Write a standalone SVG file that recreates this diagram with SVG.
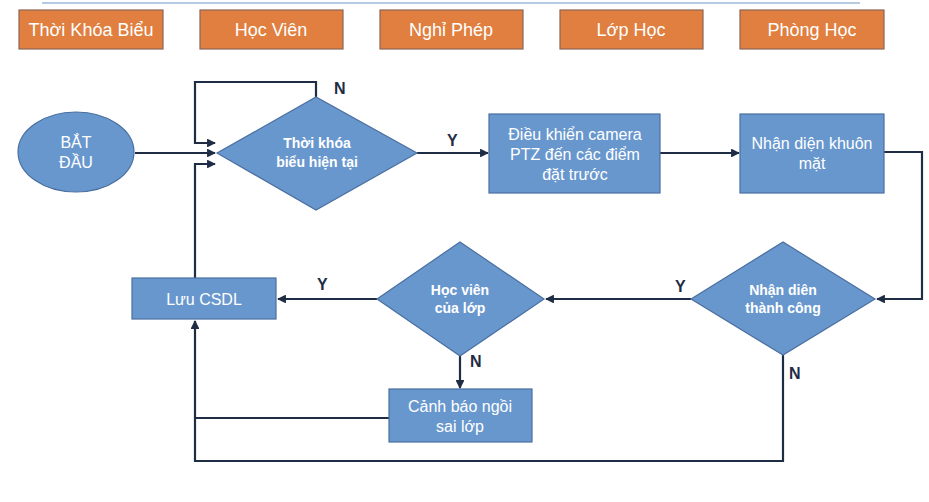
<svg xmlns="http://www.w3.org/2000/svg" width="929" height="502" viewBox="0 0 929 502">
<defs>
<marker id="ah" viewBox="0 0 10 10" refX="9" refY="5" markerWidth="4" markerHeight="4" orient="auto" markerUnits="strokeWidth">
<path d="M0,0 L10,5 L0,10 z" fill="#1F2D44"/>
</marker>
</defs>
<style>
.tab{fill:#E07F3F;stroke:#8A6455;stroke-width:1.2}
.tabt{font-family:"Liberation Sans",Arial,sans-serif;font-size:18px;fill:#fff;text-anchor:middle}
.node{fill:#6897CE;stroke:#4A6FA0;stroke-width:1.2}
.t{font-family:"Liberation Sans",Arial,sans-serif;font-size:16px;fill:#fff;text-anchor:middle}
.tb{font-family:"Liberation Sans",Arial,sans-serif;font-size:14px;font-weight:bold;fill:#fff;text-anchor:middle}
.lbl{font-family:"Liberation Sans",Arial,sans-serif;font-size:16px;font-weight:bold;fill:#1F2D44}
.c{fill:none;stroke:#1F2D44;stroke-width:2.2}
.ca{fill:none;stroke:#1F2D44;stroke-width:2.2;marker-end:url(#ah)}
</style>
<rect width="929" height="502" fill="#fff"/>
<line x1="42" y1="3" x2="860" y2="3" stroke="#9DB8DA" stroke-width="1.5"/>

<g id="tab1"><rect class="tab" x="19" y="10" width="144" height="39"/><text class="tabt" x="91" y="36">Thời Khóa Biểu</text></g>
<g id="tab2"><rect class="tab" x="200" y="10" width="143" height="39"/><text class="tabt" x="271" y="36">Học Viên</text></g>
<g id="tab3"><rect class="tab" x="380" y="10" width="143" height="39"/><text class="tabt" x="451" y="36">Nghỉ Phép</text></g>
<g id="tab4"><rect class="tab" x="560" y="10" width="143" height="39"/><text class="tabt" x="631" y="36">Lớp Học</text></g>
<g id="tab5"><rect class="tab" x="740" y="10" width="144" height="39"/><text class="tabt" x="812" y="36">Phòng Học</text></g>

<g id="connectors">
<path class="ca" d="M135,153 H215"/>
<path class="ca" d="M316,97 V82 H195 V143 H215"/>
<path class="ca" d="M195,278 V164 H215"/>
<path class="ca" d="M417,153 H488"/>
<path class="ca" d="M660,153 H739"/>
<path class="ca" d="M884,152 H922 V299 H877"/>
<path class="ca" d="M691,299 H546"/>
<path class="ca" d="M377,299 H278"/>
<path class="ca" d="M460,356 V388"/>
<path class="c" d="M389,418 H195"/>
<path class="ca" d="M783,355 V461 H195 V321"/>
</g>

<g id="start"><ellipse class="node" cx="76" cy="152" rx="58" ry="40"/><text class="t" x="76" y="148">BẮT</text><text class="t" x="76" y="168">ĐẦU</text></g>
<g id="d1"><polygon class="node" points="217,153 316,97 417,153 316,210"/><text class="tb" x="317" y="148">Thời khóa</text><text class="tb" x="317" y="167">biểu hiện tại</text></g>
<g id="b1"><rect class="node" x="489" y="114" width="171" height="79"/><text class="t" x="575" y="140">Điều khiển camera</text><text class="t" x="575" y="160">PTZ đến các điểm</text><text class="t" x="575" y="180">đặt trước</text></g>
<g id="b2"><rect class="node" x="740" y="114" width="144" height="79"/><text class="t" x="812" y="149">Nhận diện khuôn</text><text class="t" x="812" y="169">mặt</text></g>
<g id="d2"><polygon class="node" points="691,299 783,242 875,299 783,355"/><text class="tb" x="783" y="295">Nhận diên</text><text class="tb" x="783" y="313">thành công</text></g>
<g id="d3"><polygon class="node" points="377,299 460,242 544,299 460,356"/><text class="tb" x="460" y="295">Học viên</text><text class="tb" x="460" y="313">của lớp</text></g>
<g id="luu"><rect class="node" x="132" y="278" width="144" height="41"/><text class="t" x="204" y="305">Lưu CSDL</text></g>
<g id="canh"><rect class="node" x="389" y="389" width="143" height="53"/><text class="t" x="460" y="412">Cảnh báo ngồi</text><text class="t" x="460" y="432">sai lớp</text></g>

<g id="labels">
<text class="lbl" x="334" y="94">N</text>
<text class="lbl" x="447" y="146">Y</text>
<text class="lbl" x="675" y="292">Y</text>
<text class="lbl" x="317" y="290">Y</text>
<text class="lbl" x="470" y="367">N</text>
<text class="lbl" x="789" y="379">N</text>
</g>
</svg>
